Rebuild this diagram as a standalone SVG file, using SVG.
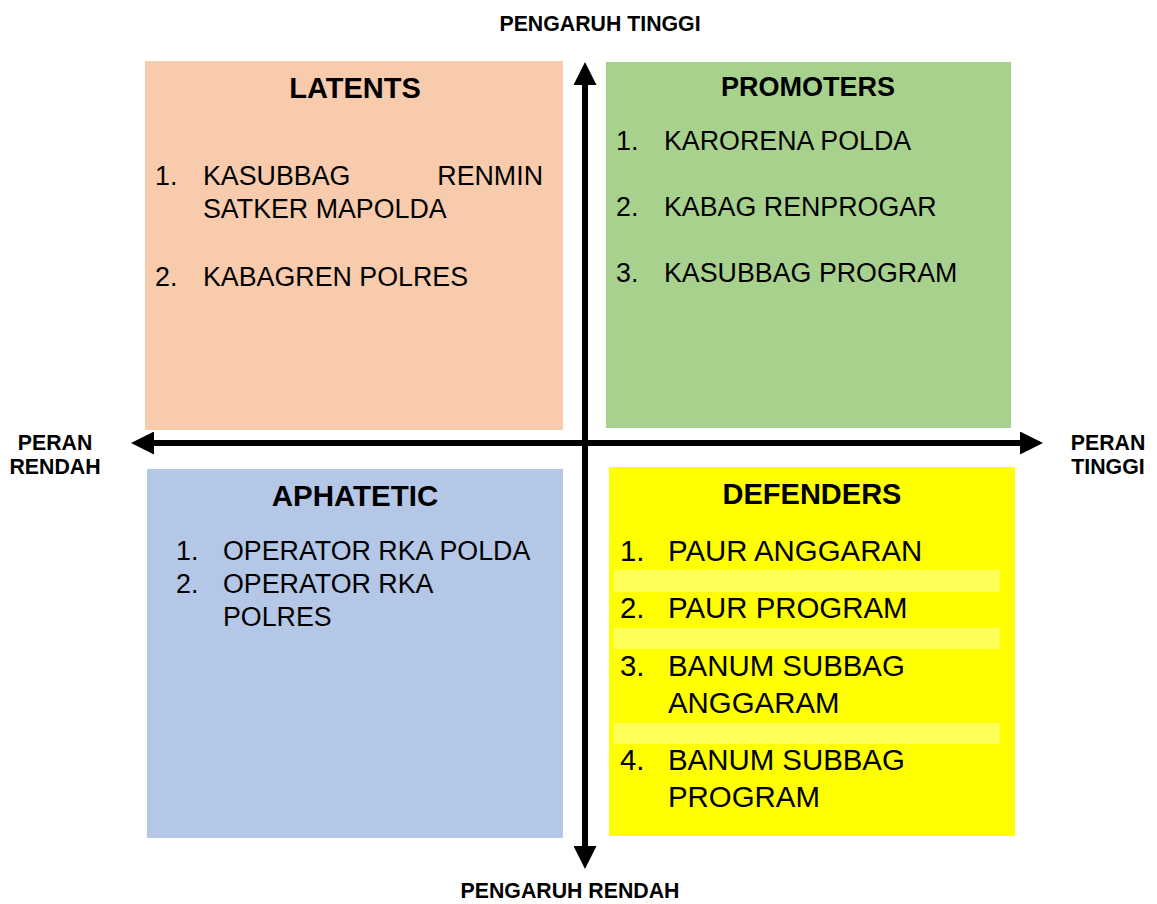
<svg xmlns="http://www.w3.org/2000/svg" width="1157" height="904" viewBox="0 0 1157 904">
<style>
text{font-family:"Liberation Sans",Arial,sans-serif;fill:#000}
.ax{font-size:21.3px;font-weight:bold}
.ttl{font-size:29px;font-weight:bold;text-anchor:middle}
.it{font-size:26.8px}
.itd{font-size:29.4px}
.axis{stroke:#000;stroke-width:6;fill:none}
</style>
<defs>
<marker id="ah" markerUnits="userSpaceOnUse" markerWidth="23" markerHeight="23" refX="4" refY="11.5" orient="auto-start-reverse">
<path d="M0,0 L23,11.5 L0,23 z" fill="#000"/>
</marker>
</defs>
<rect width="1157" height="904" fill="#fff"/>
<g id="latents">
<rect x="145" y="61" width="418" height="369" fill="#f8cbad"/>
<text class="ttl" x="355" y="98">LATENTS</text>
<text class="it" x="155" y="185">1.</text>
<text class="it" x="203" y="185">KASUBBAG</text>
<text class="it" x="543" y="185" text-anchor="end">RENMIN</text>
<text class="it" x="203" y="218">SATKER MAPOLDA</text>
<text class="it" x="155" y="286">2.</text>
<text class="it" x="203" y="286">KABAGREN POLRES</text>
</g>
<g id="promoters">
<rect x="606" y="62" width="405" height="366" fill="#a9d18e"/>
<text class="ttl" x="808" y="96" style="font-size:27px">PROMOTERS</text>
<text class="it" x="616" y="150">1.</text>
<text class="it" x="664" y="150">KARORENA POLDA</text>
<text class="it" x="616" y="216">2.</text>
<text class="it" x="664" y="216">KABAG RENPROGAR</text>
<text class="it" x="616" y="282">3.</text>
<text class="it" x="664" y="282">KASUBBAG PROGRAM</text>
</g>
<g id="aphatetic">
<rect x="147" y="469" width="416" height="369" fill="#b4c7e7"/>
<text class="ttl" x="355" y="506" style="font-size:29.5px">APHATETIC</text>
<text class="it" x="176" y="560">1.</text>
<text class="it" x="223" y="560">OPERATOR RKA POLDA</text>
<text class="it" x="176" y="593">2.</text>
<text class="it" x="223" y="593">OPERATOR RKA</text>
<text class="it" x="223" y="626">POLRES</text>
</g>
<g id="defenders">
<rect x="609" y="467" width="406" height="369" fill="#ffff00"/>
<rect x="614" y="570" width="386" height="22" fill="#ffff5a"/>
<rect x="614" y="628" width="386" height="21" fill="#ffff5a"/>
<rect x="614" y="723" width="386" height="21" fill="#ffff5a"/>
<text class="ttl" x="812" y="504">DEFENDERS</text>
<text class="itd" x="620" y="561">1.</text>
<text class="itd" x="668" y="561">PAUR ANGGARAN</text>
<text class="itd" x="620" y="618">2.</text>
<text class="itd" x="668" y="618">PAUR PROGRAM</text>
<text class="itd" x="620" y="676">3.</text>
<text class="itd" x="668" y="676">BANUM SUBBAG</text>
<text class="itd" x="668" y="713">ANGGARAM</text>
<text class="itd" x="620" y="770">4.</text>
<text class="itd" x="668" y="770">BANUM SUBBAG</text>
<text class="itd" x="668" y="807">PROGRAM</text>
</g>
<g id="connectors">
<line class="axis" x1="150" y1="443" x2="1024" y2="443" marker-start="url(#ah)" marker-end="url(#ah)"/>
<line class="axis" x1="585" y1="81" x2="585" y2="850" marker-start="url(#ah)" marker-end="url(#ah)"/>
</g>
<g id="axis-labels">
<text class="ax" x="600" y="31" text-anchor="middle">PENGARUH TINGGI</text>
<text class="ax" x="570" y="898" text-anchor="middle">PENGARUH RENDAH</text>
<text class="ax" x="55" y="450" text-anchor="middle">PERAN</text>
<text class="ax" x="55" y="474" text-anchor="middle">RENDAH</text>
<text class="ax" x="1108" y="450" text-anchor="middle">PERAN</text>
<text class="ax" x="1108" y="474" text-anchor="middle">TINGGI</text>
</g>
</svg>
